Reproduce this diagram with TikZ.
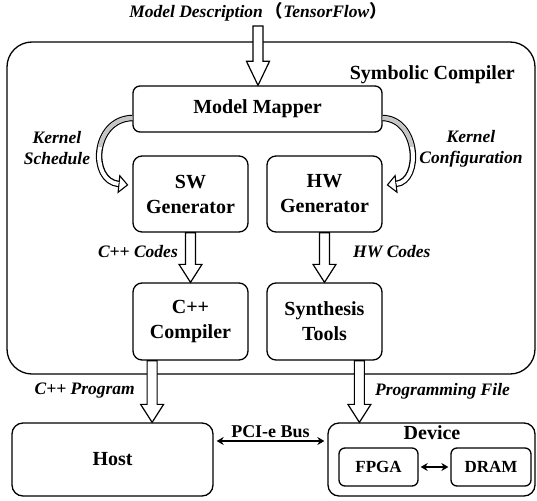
\documentclass[tikz,border=0pt]{standalone}
\usepackage{fontspec}
\setmainfont{Liberation Serif}
\newfontfamily\cjk{Noto Sans CJK SC}
\usetikzlibrary{arrows.meta,calc}

\begin{document}
\begin{tikzpicture}[x=1pt,y=-1pt,
    box/.style={draw, line width=1.3pt, rounded corners=9pt, align=center,
      inner sep=0pt, font=\fontsize{20}{25}\selectfont\bfseries},
    smallbox/.style={box, rounded corners=6pt, font=\fontsize{17}{20}\selectfont\bfseries},
    lbl/.style={inner sep=0pt, align=center,
      font=\fontsize{17.5}{21}\selectfont\bfseries\itshape},
    bigarrow/.style={draw, fill=white, line width=1.2pt, line join=miter},
    bendouter/.style={line width=6.5pt,
      -{Triangle[length=10pt, width=19pt, fill=white, line width=1.1pt]}},
    bendinner/.style={line width=4pt, white, shorten >=10pt},
    bendgray/.style={line width=4pt, gray!45, shorten >=10pt},
    dbl/.style={line width=1.3pt, {Stealth[length=7pt,width=8pt]}-{Stealth[length=7pt,width=8pt]}}]
    \useasboundingbox (0,0) rectangle (537,500);
    \def\bigArrow#1#2#3{
      % hollow block arrow, #3 = head length
      \draw[bigarrow] let \p1=(#1), \p2=(#2) in
        (\x1-5pt,\y1) -- (\x1-5pt,\y2+#3) -- (\x1-11.5pt,\y2+#3) -- (\x1,\y2)
        -- (\x1+11.5pt,\y2+#3) -- (\x1+5pt,\y2+#3) -- (\x1+5pt,\y1) -- cycle;
    }
    \def\bendArrow#1#2#3#4{
      \draw[bendouter] (#1) .. controls +(#2) and +(#3) .. (#4);
      \draw[bendinner] (#1) .. controls +(#2) and +(#3) .. (#4);
      \begin{scope}
        \clip (0,0) rectangle (537,146);
        \draw[bendgray] (#1) .. controls +(#2) and +(#3) .. (#4);
      \end{scope}
    }
    \def\showBoxes{
      \node[box, rounded corners=25pt, minimum width=528pt, minimum height=332pt]
        (compiler) at (271,208) {};
      \node[box, rounded corners=7pt, minimum width=249pt, minimum height=46pt]
        (mapper) at (257.5,109) {Model Mapper};
      \node[box, minimum width=115pt, minimum height=76pt] (sw) at (190.5,194) {SW\\Generator};
      \node[box, minimum width=115pt, minimum height=76pt] (hw) at (324.5,194) {HW\\Generator};
      \node[box, minimum width=115pt, minimum height=77pt] (cpp) at (190.5,321.5) {C++\\Compiler};
      \node[box, minimum width=115pt, minimum height=77pt] (synth) at (324.5,321.5) {Synthesis\\Tools};
      \node[box, rounded corners=11pt, minimum width=201pt, minimum height=73pt]
        (host) at (112.5,459.5) {Host};
      \node[box, rounded corners=11pt, minimum width=207pt, minimum height=73pt]
        (device) at (431.5,459.5) {};
      \node[smallbox, minimum width=79pt, minimum height=38pt] (fpga) at (378.5,467) {FPGA};
      \node[smallbox, minimum width=80pt, minimum height=38pt] (dram) at (491,467) {DRAM};
    }
    \def\showLabels{
      \node[lbl] (title) at (258,12)
        {Model Description\,{\cjk （}TensorFlow{\cjk ）}};
      \coordinate (input) at (258,26);
      \node[inner sep=0pt, anchor=east, font=\fontsize{20}{24}\selectfont\bfseries]
        (symlbl) at (515,75) {Symbolic Compiler};
      \node[lbl] (kslbl) at (57,148.5) {Kernel\\Schedule};
      \node[lbl] (kclbl) at (471,148.5) {Kernel\\Configuration};
      \node[lbl, anchor=east] (cclbl) at (178,252) {C++ Codes};
      \node[lbl, anchor=west] (hclbl) at (353,252) {HW Codes};
      \node[lbl, anchor=east] (cplbl) at (135,391) {C++ Program};
      \node[lbl, anchor=west] (pflbl) at (375,391) {Programming File};
      \node[inner sep=0pt, font=\fontsize{20}{24}\selectfont\bfseries]
        (devlbl) at (432,433) {Device};
    }
    \def\showLinks{
      \bigArrow{input}{mapper.north}{24pt}
      \bigArrow{sw.south}{cpp.north}{18pt}
      \bigArrow{hw.south}{synth.north}{18pt}
      \bigArrow{$(cpp.south west)!0.17!(cpp.south east)$}{host.north}{18pt}
      \bigArrow{$(synth.south west)!0.8!(synth.south east)$}{device.north}{18pt}
      % curved arrows out of the mapper
      \bendArrow{$(mapper.west)+(0,9)$}{-40,1}{-39,-4}{$(sw.west)+(-4,-9)$}
      \bendArrow{$(mapper.east)+(0,9)$}{36,1}{35,-4}{$(hw.east)+(4,-9)$}
      % buses
      \draw[dbl] ([yshift=18.5pt,xshift=3pt]host.east) -- ([yshift=18.5pt,xshift=-3pt]device.west)
        node[midway, above=3pt, inner sep=0pt, font=\fontsize{18}{20}\selectfont\bfseries] {PCI-e Bus};
      \draw[dbl, line width=1.1pt, shorten <=2pt, shorten >=2pt] (fpga) -- (dram);
    }
    \showBoxes
    \showLabels
    \showLinks
\end{tikzpicture}
\end{document}
